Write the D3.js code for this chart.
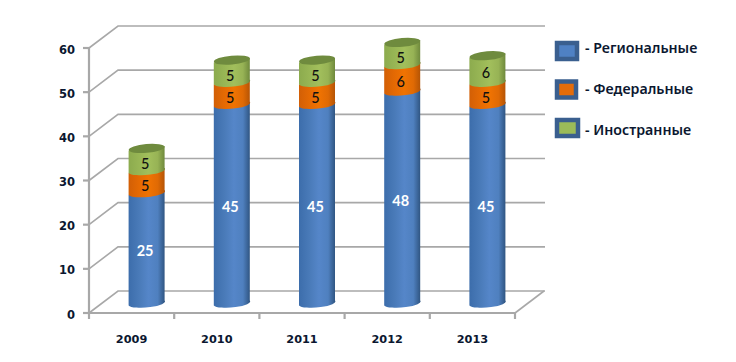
<!DOCTYPE html>
<html><head><meta charset="utf-8">
<script src="https://cdn.jsdelivr.net/npm/d3@7"></script>
<style>html,body{margin:0;padding:0;background:#fff}svg{display:block}</style>
</head><body><svg id="c" width="736" height="362"></svg>
<script>
const categories = ["2009","2010","2011","2012","2013"];
const seriesNames = ["- Региональные","- Федеральные","- Иностранные"];
const regional = [25,45,45,48,45];
const federal = [5,5,5,6,5];
const foreign = [5,5,5,5,6];
const yTicks = [0,10,20,30,40,50,60];

const svg = d3.select("#c");
const x = d3.scaleBand().domain(categories).range([89,515]).padding(0);
const y = d3.scaleLinear().domain([0,60]).range([313,48]);
const depthX = 29, depthY = 22, barShift = 15, barDepth = 10, r = 18, tilt = 2.4, ry = 4.4, rot = -5;
const grid = "#a8a8a8", ink = "#0b1730";

const defs = svg.append("defs");
const palettes = [
  {id:"g0", stops:["#3c6dab","#4a7bb9","#5586c9","#4f80bf","#2e537f"], cap:"#4a7bb9", label:"#fff", swatch:"#4f81c4"},
  {id:"g1", stops:["#d25f06","#e56a03","#f07302","#e06a04","#b35305"], cap:"#d25f06", label:"#111", swatch:"#e46c0a"},
  {id:"g2", stops:["#8cab4e","#98b655","#a2bf5c","#97b355","#6d873b"], cap:"#6f8b3e", label:"#111", swatch:"#9bbb59"}
];
palettes.forEach(p=>{
  const g = defs.append("linearGradient").attr("id",p.id);
  [0,.3,.55,.8,1].forEach((o,i)=>g.append("stop").attr("offset",o).attr("stop-color",p.stops[i]));
});

// walls
const gg = svg.append("g").attr("fill","none").attr("stroke",grid);
yTicks.forEach(t=>{
  gg.append("path").attr("d",`M${x.range()[0]},${y(t)}L${x.range()[0]+depthX},${y(t)-depthY}H${x.range()[1]+depthX+1}`).attr("stroke-width",1.6);
});
gg.append("path").attr("d",`M${x.range()[1]},${y(0)}L${x.range()[1]+depthX},${y(0)-depthY}`).attr("stroke-width",1.6);

// axes
const ax = svg.append("g").attr("stroke",grid).attr("stroke-width",2.2).attr("fill","none");
ax.append("path").attr("d",`M${x.range()[0]},${y(60)}V${y(0)}H${x.range()[1]}`);
yTicks.forEach(t=>ax.append("path").attr("d",`M${x.range()[0]-6},${y(t)}H${x.range()[0]}`));
[...categories.map(c=>x(c)),x.range()[1]].forEach(v=>ax.append("path").attr("d",`M${v},${y(0)}v6`));

const tickFont = "'DejaVu Sans',sans-serif";
svg.append("g").selectAll("text").data(yTicks).join("text")
  .attr("x",x.range()[0]-14).attr("y",d=>y(d)+5.5).attr("text-anchor","end")
  .attr("font-family",tickFont).attr("font-weight",700).attr("font-size",11.5).attr("fill",ink).text(d=>d);
svg.append("g").selectAll("text").data(categories).join("text")
  .attr("x",d=>x(d)+x.bandwidth()/2).attr("y",y(0)+29.5).attr("text-anchor","middle")
  .attr("font-family",tickFont).attr("font-weight",700).attr("font-size",11.3).attr("fill",ink).text(d=>d);

// bars
const rows = categories.map((c,i)=>({c,v:[regional[i],federal[i],foreign[i]]}));
const bars = svg.append("g");
rows.forEach(row=>{
  const cx = x(row.c)+x.bandwidth()/2+barShift;
  let acc = 0;
  const segs = row.v.map((v,k)=>{const s={k,v,y0:acc,y1:acc+v};acc+=v;return s;});
  segs.forEach(s=>{
    const yt = y(s.y1)-barDepth, yb = y(s.y0)-barDepth;
    bars.append("path")
      .attr("d",`M${cx-r},${yt+tilt}L${cx+r},${yt-tilt}L${cx+r},${yb-tilt}A${r} ${ry} ${rot} 0 1 ${cx-r},${yb+tilt}Z`)
      .attr("fill",`url(#g${s.k})`);
  });
  const top = segs[segs.length-1];
  bars.append("ellipse").attr("cx",cx).attr("cy",y(top.y1)-barDepth).attr("rx",r).attr("ry",ry)
    .attr("transform",`rotate(${rot} ${cx} ${y(top.y1)-barDepth})`).attr("fill",palettes[top.k].cap);
  segs.forEach(s=>{
    bars.append("text").attr("x",cx-1.5).attr("y",y((s.y0+s.y1)/2)-barDepth+(s.k===0?8.5:9.5))
      .attr("text-anchor","middle").attr("font-family","Lato,sans-serif")
      .attr("font-weight",s.k===0?700:500).attr("font-size",14.5).attr("fill",palettes[s.k].label).text(s.v);
  });
});

// legend
const legendY = d3.scalePoint().domain(seriesNames).range([51,128]);
const leg = svg.append("g");
const swW = [24,23,25];
seriesNames.forEach((n,i)=>{
  const cy = legendY(n);
  leg.append("rect").attr("x",557).attr("y",cy-8).attr("width",swW[i]-4).attr("height",16)
    .attr("fill",palettes[i].swatch).attr("stroke","#3a5f8f").attr("stroke-width",4.5);
  leg.append("text").attr("x",585).attr("y",cy+[2,4.5,6.5][i]).attr("font-family","'Noto Sans',sans-serif")
    .attr("font-weight",600).attr("font-size",14.2).attr("fill",ink).text(n);
});
</script></body></html>
